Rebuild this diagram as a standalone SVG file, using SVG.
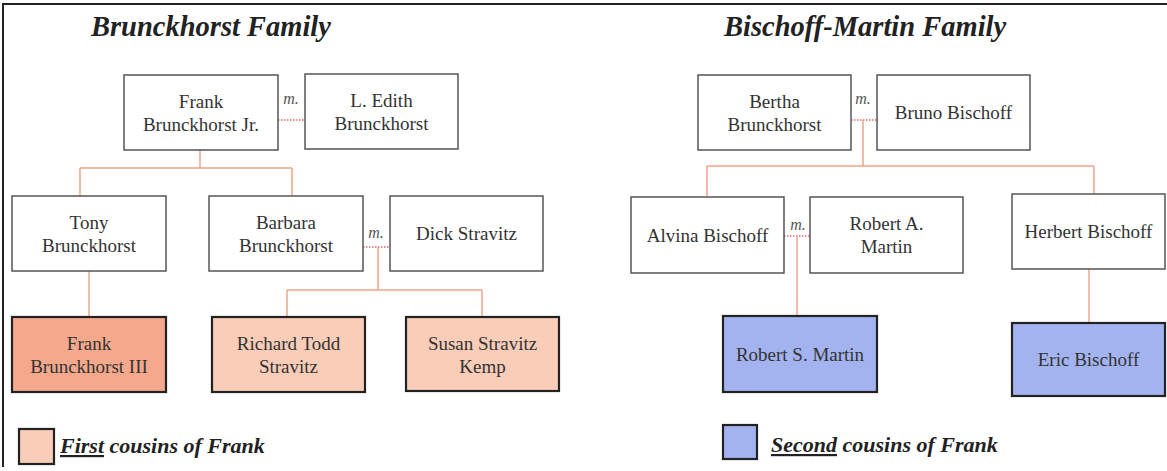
<svg xmlns="http://www.w3.org/2000/svg" width="1167" height="471" viewBox="0 0 1167 471">
<style>
.bg{fill:#ffffff}
.box rect{fill:#ffffff;stroke:#555555;stroke-width:1.5}
.first rect{fill:#f9cdb8;stroke:#222222;stroke-width:2.2}
.self rect{fill:#f4a98c;stroke:#222222;stroke-width:2.2}
.second rect{fill:#a3b3ef;stroke:#222222;stroke-width:2.2}
text{font-family:'Liberation Serif','Times New Roman',serif}
.box text,.first text,.self text,.second text{font-size:19px;fill:#333333;text-anchor:middle}
.title{font-size:28.5px;font-weight:bold;font-style:italic;fill:#222222}
.legend{font-size:22px;font-weight:bold;font-style:italic;fill:#222222}
.m{font-size:16px;font-style:italic;fill:#555555;text-anchor:middle}
.line{fill:none;stroke:#f0a488;stroke-width:1.5}
.dot{fill:none;stroke:#d66a6a;stroke-width:1.5;stroke-dasharray:1.5 1.5}
.frame{fill:none;stroke:#222222;stroke-width:2}
</style>
<rect class="bg" x="0" y="0" width="1167" height="471"/>
<path class="frame" d="M3,467 V4 H1167"/>
<text class="title" x="91" y="36">Brunckhorst Family</text>
<text class="title" x="724" y="36">Bischoff-Martin Family</text>

<g id="connectors">
  <path class="dot" d="M278,120 H305"/>
  <path class="line" d="M200,150 V168 M80,168 H292 M80,168 V196 M292,168 V196"/>
  <path class="line" d="M89,271 V317"/>
  <path class="dot" d="M363,247 H390"/>
  <path class="line" d="M378,247 V290 M287,290 H482 M287,290 V317 M482,290 V317"/>
  <path class="dot" d="M851,120 H877"/>
  <path class="line" d="M863,120 V166 M707,166 H1094 M707,166 V197 M1094,166 V194"/>
  <path class="dot" d="M784,236 H810"/>
  <path class="line" d="M797,236 V316"/>
  <path class="line" d="M1089,269 V323"/>
  <text class="m" x="291" y="104">m.</text>
  <text class="m" x="376" y="238">m.</text>
  <text class="m" x="863" y="104">m.</text>
  <text class="m" x="798" y="230">m.</text>
</g>

<g id="frank-jr" class="box"><rect x="124" y="75" width="154" height="75"/><text x="201" y="108">Frank</text><text x="201" y="131">Brunckhorst Jr.</text></g>
<g id="edith" class="box"><rect x="305" y="74" width="153" height="75"/><text x="381.5" y="107">L. Edith</text><text x="381.5" y="130">Brunckhorst</text></g>
<g id="tony" class="box"><rect x="12" y="196" width="154" height="75"/><text x="89" y="229">Tony</text><text x="89" y="252">Brunckhorst</text></g>
<g id="barbara" class="box"><rect x="209" y="196" width="154" height="75"/><text x="286" y="229">Barbara</text><text x="286" y="252">Brunckhorst</text></g>
<g id="dick" class="box"><rect x="390" y="196" width="153" height="75"/><text x="466.5" y="240">Dick Stravitz</text></g>
<g id="frank-iii" class="self"><rect x="12" y="317" width="154" height="75"/><text x="89" y="350">Frank</text><text x="89" y="373">Brunckhorst III</text></g>
<g id="richard" class="first"><rect x="212" y="317" width="153" height="75"/><text x="288.5" y="350">Richard Todd</text><text x="288.5" y="373">Stravitz</text></g>
<g id="susan" class="first"><rect x="406" y="317" width="153" height="74"/><text x="482.5" y="350">Susan Stravitz</text><text x="482.5" y="373">Kemp</text></g>

<g id="bertha" class="box"><rect x="698" y="75" width="153" height="75"/><text x="774.5" y="108">Bertha</text><text x="774.5" y="131">Brunckhorst</text></g>
<g id="bruno" class="box"><rect x="877" y="75" width="153" height="75"/><text x="953.5" y="119">Bruno Bischoff</text></g>
<g id="alvina" class="box"><rect x="631" y="197" width="153" height="76"/><text x="707.5" y="241.5">Alvina Bischoff</text></g>
<g id="robert-a" class="box"><rect x="810" y="197" width="153" height="76"/><text x="886.5" y="230">Robert A.</text><text x="886.5" y="253">Martin</text></g>
<g id="herbert" class="box"><rect x="1012" y="194" width="153" height="75"/><text x="1088.5" y="238">Herbert Bischoff</text></g>
<g id="robert-s" class="second"><rect x="723" y="316" width="154" height="76"/><text x="800" y="360.5">Robert S. Martin</text></g>
<g id="eric" class="second"><rect x="1012" y="323" width="153" height="73"/><text x="1088.5" y="366">Eric Bischoff</text></g>

<g id="legend-first" class="first"><rect x="19" y="429" width="35" height="35"/></g>
<text class="legend" x="60" y="453"><tspan text-decoration="underline">First</tspan> cousins of Frank</text>
<g id="legend-second" class="second"><rect x="723" y="425" width="34" height="34"/></g>
<text class="legend" x="771" y="452"><tspan text-decoration="underline">Second</tspan> cousins of Frank</text>
</svg>
